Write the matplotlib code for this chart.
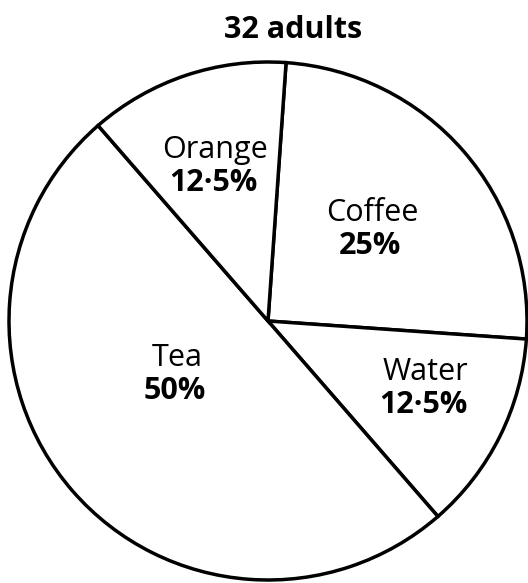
import matplotlib.pyplot as plt

plt.rcParams['font.family'] = ['Open Sans', 'DejaVu Sans']

categories = ['Coffee', 'Water', 'Tea', 'Orange']
shares = [25, 12.5, 50, 12.5]
pct_labels = ['25%', '12·5%', '50%', '12·5%']
title = '32 adults'

W, H = 528, 583
fig = plt.figure(figsize=(W / 100, H / 100), dpi=100)
ax = fig.add_axes([0, 0, 1, 1])
ax.set_xlim(0, W)
ax.set_ylim(0, H)
ax.set_aspect('equal')
ax.axis('off')

cx, cy, r = 268, H - 321, 259
wedges, _ = ax.pie(shares, startangle=86, counterclock=False, center=(cx, cy), radius=r,
                   colors=['white'] * 4,
                   wedgeprops=dict(edgecolor='black', linewidth=2.5))
ax.set_xlim(0, W)
ax.set_ylim(0, H)

# label positions in pixels (x, y of name line)
pos = {'Coffee': (372, 213), 'Water': (425, 372), 'Tea': (177, 358), 'Orange': (215, 150)}
for name, pct in zip(categories, pct_labels):
    px, py = pos[name]
    ax.text(px, H - py, name, ha='center', va='center', fontsize=22)
    ax.text(px - 2, H - py - 33, pct, ha='center', va='center', fontsize=22, fontweight='bold')

ax.text(293, H - 30, title, ha='center', va='center', fontsize=22, fontweight='bold')

fig.savefig('out.png', dpi=100)
